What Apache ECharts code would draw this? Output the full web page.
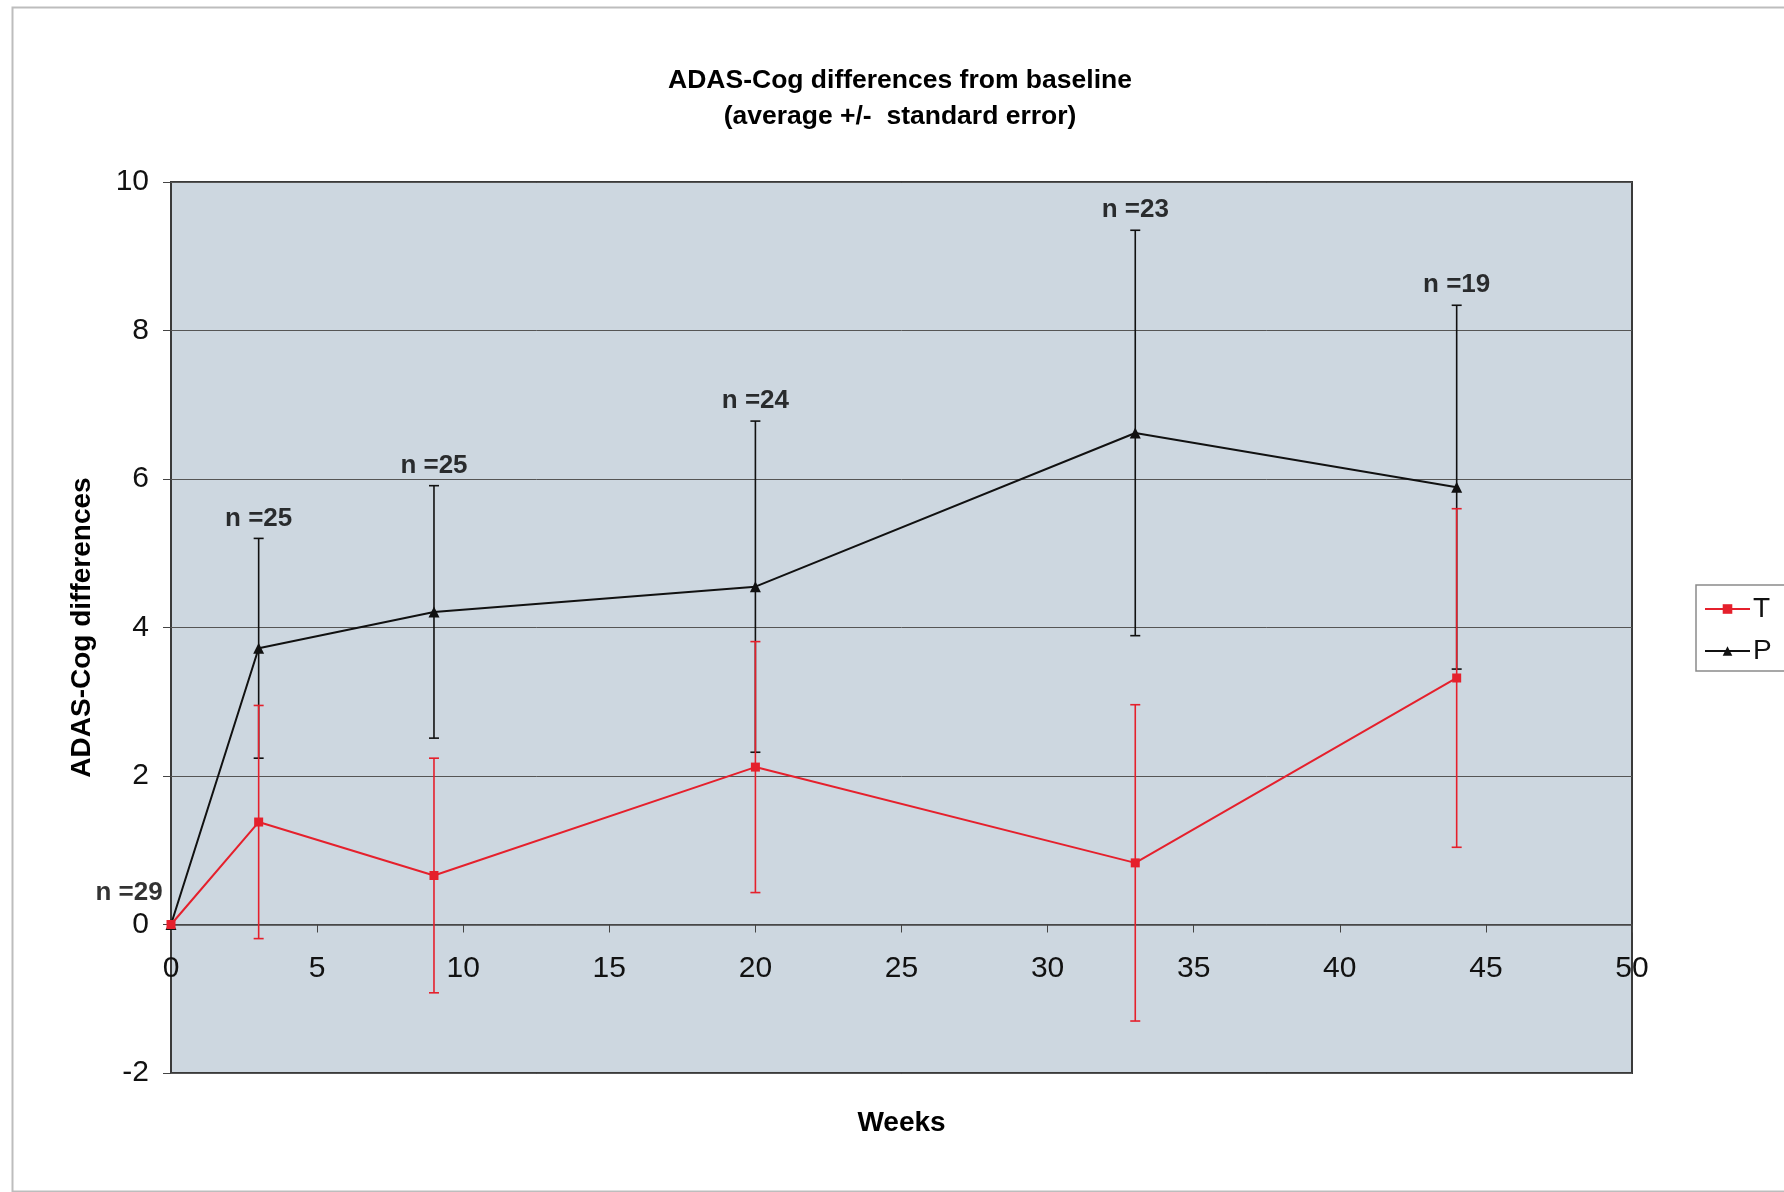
<!DOCTYPE html>
<html>
<head>
<meta charset="utf-8">
<title>ADAS-Cog differences from baseline</title>
<script src="https://cdn.jsdelivr.net/npm/echarts@6/dist/echarts.min.js"></script>
<style>
  html, body { margin: 0; padding: 0; background: #fff; }
  #chart { width: 1784px; height: 1192px; }
</style>
</head>
<body>
<div id="chart"></div>
<script>
// values
const weeks = [0, 3, 9, 20, 33, 44];
const tMean = [0, 1.38, 0.66, 2.12, 0.83, 3.32];
const tErr = [0, 1.57, 1.58, 1.69, 2.13, 2.28];
const pMean = [0, 3.72, 4.21, 4.55, 6.62, 5.89];
const pErr = [0, 1.48, 1.70, 2.23, 2.73, 2.45];
const nLabels = ['n =29', 'n =25', 'n =25', 'n =24', 'n =23', 'n =19'];

const FONT = '"Liberation Sans", Arial, sans-serif';
const RED = '#e5202c';
const BLACK = '#111';

// grid box in pixels, the x axis sits on y = 0 (1/6 of the height up)
const gridTop = 182, gridBottom = 119;
const gridHeight = 1192 - gridTop - gridBottom;
const xAxisLift = gridHeight / 6;

function errData(mean, err) {
    let out = [];
    for (let i = 0; i < weeks.length; i++) {
        if (err[i] > 0) out.push([weeks[i], mean[i] - err[i], mean[i] + err[i]]);
    }
    return out;
}

function errorBars(name, mean, err, color) {
    return {
        type: 'custom',
        name: name + ' err',
        data: errData(mean, err),
        silent: true,
        z: 3,
        renderItem: function (params, api) {
            let x = api.value(0);
            let lo = api.coord([x, api.value(1)]);
            let hi = api.coord([x, api.value(2)]);
            let w = 5;
            let style = { stroke: color, lineWidth: 1.6 };
            return {
                type: 'group',
                children: [
                    { type: 'line', shape: { x1: lo[0], y1: lo[1], x2: hi[0], y2: hi[1] }, style: style },
                    { type: 'line', shape: { x1: lo[0] - w, y1: lo[1], x2: lo[0] + w, y2: lo[1] }, style: style },
                    { type: 'line', shape: { x1: hi[0] - w, y1: hi[1], x2: hi[0] + w, y2: hi[1] }, style: style }
                ]
            };
        }
    };
}

let labelData = [];
for (let i = 0; i < weeks.length; i++) {
    let item = { value: [weeks[i], pMean[i] + pErr[i]] };
    if (i === 0) {
        item.label = { offset: [-42, -12] };
    }
    labelData.push(item);
}

let chart = echarts.init(document.getElementById('chart'), null, { renderer: 'canvas' });

let option = {
    backgroundColor: '#fff',
    animation: false,
    textStyle: { fontFamily: FONT },
    title: {
        text: 'ADAS-Cog differences from baseline\n(average +/-  standard error)',
        left: 900,
        textAlign: 'center',
        top: 63,
        padding: 0,
        textStyle: { fontSize: 26.5, fontWeight: 'bold', color: '#000', lineHeight: 36, fontFamily: FONT }
    },
    graphic: [{
        type: 'rect',
        left: 10,
        top: 5,
        shape: { width: 1800, height: 1184 },
        style: { fill: 'none', stroke: '#bdbdbd', lineWidth: 2 },
        silent: true,
        z: -1
    }],
    legend: {
        orient: 'vertical',
        left: 1696,
        top: 585,
        data: ['T', 'P'],
        itemWidth: 45,
        itemHeight: 12,
        itemGap: 14,
        padding: [10, 30, 6, 8],
        backgroundColor: '#fff',
        borderColor: '#8a8a8a',
        borderWidth: 1.5,
        textStyle: { fontSize: 28, color: BLACK, fontFamily: FONT, padding: [0, 0, 0, -2] }
    },
    grid: {
        left: 171,
        right: 152,
        top: gridTop,
        bottom: gridBottom,
        containLabel: false,
        outerBoundsMode: 'none',
        show: true,
        backgroundColor: '#cdd7e0',
        borderColor: '#3a3a3a',
        borderWidth: 2
    },
    xAxis: {
        type: 'value',
        min: 0,
        max: 50,
        interval: 5,
        offset: -xAxisLift,
        name: 'Weeks',
        nameLocation: 'middle',
        nameGap: 185,
        nameTextStyle: { fontSize: 28, fontWeight: 'bold', color: '#000', fontFamily: FONT },
        axisLine: { onZero: false, lineStyle: { color: '#444', width: 1.5 } },
        axisTick: { show: true, length: 8, lineStyle: { color: '#444' } },
        axisLabel: { fontSize: 30, color: BLACK, margin: 29, fontFamily: FONT },
        splitLine: { show: false }
    },
    yAxis: {
        type: 'value',
        min: -2,
        max: 10,
        interval: 2,
        name: 'ADAS-Cog differences',
        nameLocation: 'middle',
        nameGap: 75,
        nameRotate: 90,
        nameTextStyle: { fontSize: 28, fontWeight: 'bold', color: '#000', fontFamily: FONT },
        axisLine: { show: false },
        axisTick: { show: true, length: 8, lineStyle: { color: '#444' } },
        axisLabel: { fontSize: 30, color: BLACK, margin: 22, fontFamily: FONT },
        splitLine: { show: true, lineStyle: { color: '#555', width: 1 } }
    },
    series: [
        errorBars('P', pMean, pErr, BLACK),
        errorBars('T', tMean, tErr, RED),
        {
            name: 'P',
            type: 'line',
            data: weeks.map((w, i) => [w, pMean[i]]),
            symbol: 'triangle',
            symbolSize: 11,
            showAllSymbol: true,
            lineStyle: { color: BLACK, width: 2 },
            itemStyle: { color: BLACK },
            z: 4
        },
        {
            name: 'T',
            type: 'line',
            data: weeks.map((w, i) => [w, tMean[i]]),
            symbol: 'rect',
            symbolSize: 9,
            showAllSymbol: true,
            lineStyle: { color: RED, width: 2 },
            itemStyle: { color: RED },
            z: 5
        },
        {
            name: 'n',
            type: 'scatter',
            data: labelData,
            symbolSize: 0,
            silent: true,
            label: {
                show: true,
                position: 'top',
                distance: 7,
                formatter: (p) => nLabels[p.dataIndex],
                fontSize: 26,
                fontWeight: 'bold',
                color: '#000',
                fontFamily: FONT
            },
            z: 6
        }
    ]
};

chart.setOption(option);
</script>
</body>
</html>
